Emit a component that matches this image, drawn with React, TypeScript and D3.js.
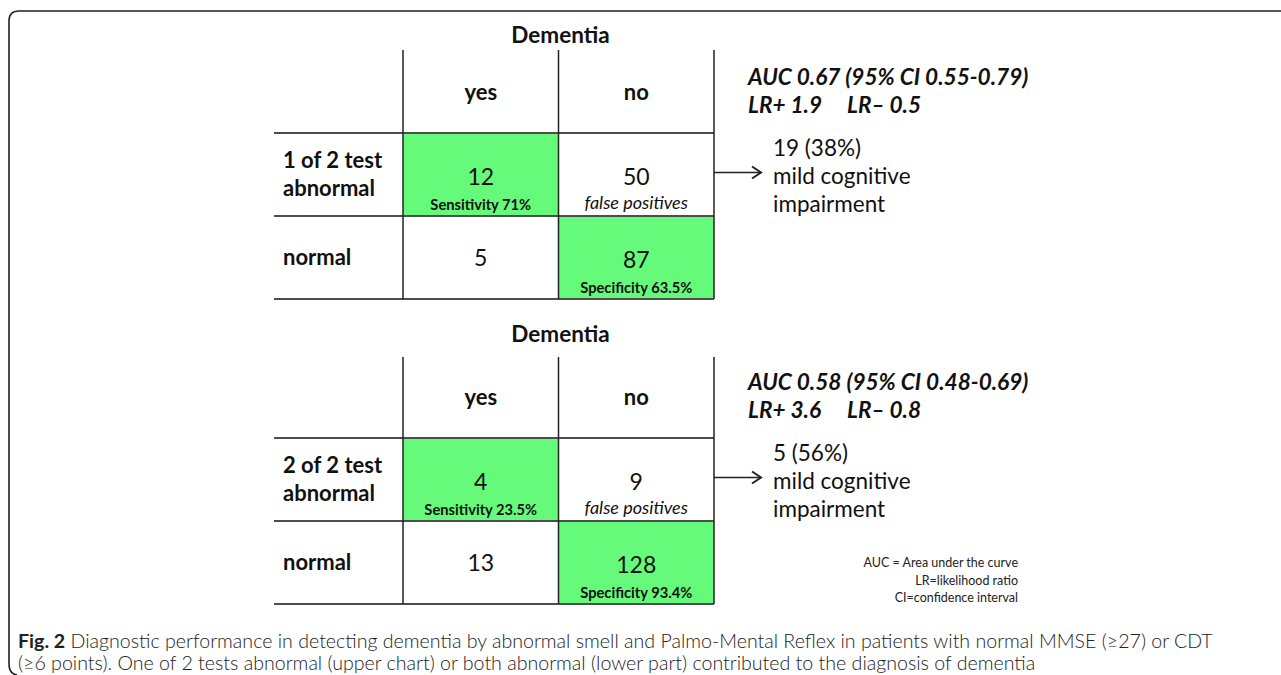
import React from "react";
import * as d3 from "d3";

// ---------- data ----------
const columnLabels = ["yes", "no"];
const headerTitle = "Dementia";

const table1RowLabels = [["1 of 2 test", "abnormal"], ["normal"]];
const table1Values = [[12, 50], [5, 87]];
const table1Notes = [["Sensitivity 71%", "false positives"], ["", "Specificity 63.5%"]];
const table1Stats = ["AUC 0.67 (95% CI 0.55-0.79)", "LR+ 1.9", "LR\u2013 0.5"];
const table1Arrow = ["19 (38%)", "mild cognitive", "impairment"];

const table2RowLabels = [["2 of 2 test", "abnormal"], ["normal"]];
const table2Values = [[4, 9], [13, 128]];
const table2Notes = [["Sensitivity 23.5%", "false positives"], ["", "Specificity 93.4%"]];
const table2Stats = ["AUC 0.58 (95% CI 0.48-0.69)", "LR+ 3.6", "LR\u2013 0.8"];
const table2Arrow = ["5 (56%)", "mild cognitive", "impairment"];

// which cells are highlighted (correct classifications)
const highlighted = [[true, false], [false, true]];
// note style: bold small or italic
const noteItalic = [[false, true], [false, false]];

const footnotes = ["AUC = Area under the curve", "LR=likelihood ratio", "CI=confidence interval"];
const captionBold = "Fig. 2";
const captionLine1 = " Diagnostic performance in detecting dementia by abnormal smell and Palmo-Mental Reflex in patients with normal MMSE (\u226527) or CDT";
const captionLine2 = "(\u22656 points). One of 2 tests abnormal (upper chart) or both abnormal (lower part) contributed to the diagnosis of dementia";

const tables = [
  { rowLabels: table1RowLabels, values: table1Values, notes: table1Notes, stats: table1Stats, arrow: table1Arrow },
  { rowLabels: table2RowLabels, values: table2Values, notes: table2Notes, stats: table2Stats, arrow: table2Arrow },
];

// ---------- layout ----------
const W = 1281;
const H = 675;
const FONT = "Lato, 'Open Sans', 'DejaVu Sans', sans-serif";
const GREEN = "#66fa7a";
const tableTops = [50, 357];
const headerHs = [83, 81];
const titleGaps = [7, 15];
const rowH = 83;
const labelLeft = 274;

const x = d3.scaleBand<string>().domain(columnLabels).range([403, 714]).paddingInner(0).paddingOuter(0);
const rowIdx = d3.scaleBand<number>().domain([0, 1]).range([0, rowH * 2]);

function Table({ t, top, headerH, titleGap }: { t: typeof tables[0]; top: number; headerH: number; titleGap: number }) {
  const bodyTop = top + headerH;
  const bottom = bodyTop + rowH * 2;
  const xL = x.range()[0];
  const xR = x.range()[1];
  const bw = x.bandwidth();
  return (
    <g>
      {t.values.map((row, ri) =>
        row.map((v, ci) =>
          highlighted[ri][ci] ? (
            <rect
              key={`g${ri}${ci}`}
              x={x(columnLabels[ci])!}
              y={bodyTop + rowIdx(ri)!}
              width={bw}
              height={rowIdx.bandwidth()}
              fill={GREEN}
            />
          ) : null
        )
      )}
      <text x={(xL + xR) / 2 + 2} y={top - titleGap} textAnchor="middle" fontFamily={FONT} fontWeight={700} fontSize={22.5} fill="#111">
        {headerTitle}
      </text>
      {columnLabels.map((c) => (
        <text key={c} x={x(c)! + bw / 2} y={bodyTop - 33} textAnchor="middle" fontFamily={FONT} fontWeight={700} fontSize={22} fill="#111">
          {c}
        </text>
      ))}
      {[bodyTop, bodyTop + rowH, bottom].map((yy, i) => (
        <line key={`h${i}`} x1={labelLeft} x2={xR} y1={yy} y2={yy} stroke="#4d4d4d" strokeWidth={2.2} />
      ))}
      {[xL, xL + bw, xR].map((xx, i) => (
        <line key={`v${i}`} x1={xx} x2={xx} y1={top} y2={bottom} stroke="#222" strokeWidth={1.5} />
      ))}
      {t.rowLabels.map((lines, ri) => {
        const cy = bodyTop + rowIdx(ri)! + rowIdx.bandwidth() / 2;
        const lh = 28;
        const start = cy + 7 - ((lines.length - 1) * lh) / 2;
        return lines.map((ln, li) => (
          <text key={`rl${ri}${li}`} x={283} y={start + li * lh} fontFamily={FONT} fontWeight={700} fontSize={22} fill="#111">
            {ln}
          </text>
        ));
      })}
      {t.values.map((row, ri) =>
        row.map((v, ci) => {
          const cx = x(columnLabels[ci])! + bw / 2;
          const rt = bodyTop + rowIdx(ri)!;
          const note = t.notes[ri][ci];
          const vy = note ? rt + 52 : rt + rowIdx.bandwidth() / 2 + 8;
          return (
            <g key={`v${ri}${ci}`}>
              <text x={cx} y={vy} textAnchor="middle" fontFamily={FONT} fontSize={23} fill="#111">
                {v}
              </text>
              {note ? (
                noteItalic[ri][ci] ? (
                  <text x={cx} y={rt + 76} textAnchor="middle" fontFamily={FONT} fontStyle="italic" fontSize={18} fill="#111">
                    {note}
                  </text>
                ) : (
                  <text x={cx} y={rt + 77} textAnchor="middle" fontFamily={FONT} fontWeight={700} fontSize={14.7} fill="#111">
                    {note}
                  </text>
                )
              ) : null}
            </g>
          );
        })
      )}
      <text x={748} y={bodyTop - 48} fontFamily={FONT} fontWeight={700} fontStyle="italic" fontSize={22.6} fill="#111">
        {t.stats[0]}
      </text>
      <text x={748} y={bodyTop - 20} fontFamily={FONT} fontWeight={700} fontStyle="italic" fontSize={22.6} fill="#111">
        {t.stats[1]}
      </text>
      <text x={847} y={bodyTop - 20} fontFamily={FONT} fontWeight={700} fontStyle="italic" fontSize={22.6} fill="#111">
        {t.stats[2]}
      </text>
      {(() => {
        const ay = bodyTop + rowIdx.bandwidth() / 2 - 2;
        return (
          <g>
            <line x1={xR} x2={760} y1={ay} y2={ay} stroke="#222" strokeWidth={1.5} />
            <path d={`M${752},${ay - 6} L${761},${ay} L${752},${ay + 6}`} fill="none" stroke="#222" strokeWidth={2} />
            {t.arrow.map((ln, i) => (
              <text key={`a${i}`} x={773} y={ay - 17 + i * 28} fontFamily={FONT} fontSize={22.5} fill="#111">
                {ln}
              </text>
            ))}
          </g>
        );
      })()}
    </g>
  );
}

export default function App() {
  return (
    <svg width={W} height={H} viewBox={`0 0 ${W} ${H}`} style={{ position: "absolute", left: 0, top: 0, background: "#fff" }}>
      <rect x={0} y={0} width={W} height={H} fill="#fff" />
      <path d={`M${W},11 H19 Q9,11 9,21 V664 Q9,674 17,675`} fill="none" stroke="#222" strokeWidth={1.6} />
      {tables.map((t, i) => (
        <Table key={i} t={t} top={tableTops[i]} headerH={headerHs[i]} titleGap={titleGaps[i]} />
      ))}
      {footnotes.map((f, i) => (
        <text key={f} x={1018} y={567 + i * 17.5} textAnchor="end" fontFamily={FONT} fontSize={12.5} fill="#222">
          {f}
        </text>
      ))}
      <text x={18} y={648} fontFamily={FONT} fontSize={19.6} fill="#222" fontWeight={300}>
        <tspan fontWeight={700}>{captionBold}</tspan>
        <tspan>{captionLine1}</tspan>
      </text>
      <text x={18} y={670} fontFamily={FONT} fontSize={19.6} fill="#222" fontWeight={300}>
        {captionLine2}
      </text>
    </svg>
  );
}
